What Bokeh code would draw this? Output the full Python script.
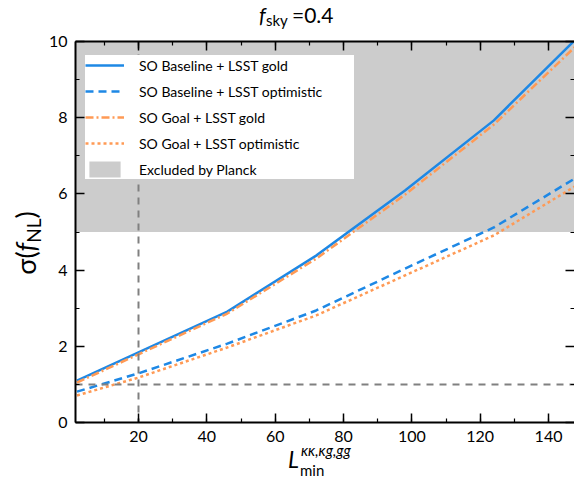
from bokeh.plotting import figure
from bokeh.layouts import column, row
from bokeh.models import (Legend, LegendItem, SingleIntervalTicker,
                          LinearAxis, Range1d, Span, Div)
from bokeh.embed import file_html
from bokeh.resources import INLINE

# ---- data ----
ell_min = [2, 20, 46, 72, 98, 124, 150]
so_base_lsst_gold = [1.10, 1.84, 2.91, 4.38, 6.09, 7.93, 10.24]
so_base_lsst_opt = [0.81, 1.29, 2.07, 2.94, 4.04, 5.12, 6.53]
so_goal_lsst_gold = [1.05, 1.79, 2.86, 4.30, 5.98, 7.82, 10.05]
so_goal_lsst_opt = [0.71, 1.18, 1.97, 2.81, 3.86, 4.91, 6.32]
planck_band = [5.0, 10.0]
ref_ell = 20
ref_sigma = 1.0
x_lim = (1.56, 147.6)
y_lim = (0, 10)
x_tick_step = 20
y_tick_step = 2
legend_labels = ["SO Baseline + LSST gold", "SO Baseline + LSST optimistic",
                 "SO Goal + LSST gold", "SO Goal + LSST optimistic",
                 "Excluded by Planck"]

FONT = "Lato"
BLUE = "#1e88e5"
ORANGE = "#ff9a55"
GRAY = "#808080"

# ---- geometry ----
TITLE_H = 30
YLAB_W = 45
BL, BR, BT, BB = 28, 0, 11, 28
FW, FH = 499, 381
FIG_H = BT + FH + BB
XLAB_H = 479 - TITLE_H - FIG_H

p = figure(frame_width=FW, frame_height=FH, output_backend="svg",
           toolbar_location=None, x_range=Range1d(*x_lim),
           y_range=Range1d(*y_lim), min_border_left=BL, min_border_right=BR,
           min_border_top=BT, min_border_bottom=BB)
p.outline_line_color = None
p.xgrid.visible = False
p.ygrid.visible = False
p.background_fill_color = "white"


def style_axis(ax, step, labels=True):
    ax.ticker = SingleIntervalTicker(interval=step, num_minor_ticks=2)
    ax.major_tick_in = 9
    ax.major_tick_out = 0
    ax.minor_tick_in = 4
    ax.minor_tick_out = 0
    ax.major_tick_line_width = 1.5
    ax.minor_tick_line_width = 1.2
    ax.axis_line_width = 2
    ax.major_tick_line_color = "black"
    ax.minor_tick_line_color = "black"
    ax.axis_line_color = "black"
    if labels:
        ax.major_label_text_font = FONT
        ax.major_label_text_font_size = "16px"
        ax.major_label_text_color = "black"
    else:
        ax.major_label_text_font_size = "0px"
        ax.major_label_text_color = None
        ax.major_label_standoff = 0


style_axis(p.xaxis[0], x_tick_step)
style_axis(p.yaxis[0], y_tick_step)
p.xaxis[0].major_label_standoff = 8
p.yaxis[0].major_label_standoff = 8

top = LinearAxis()
style_axis(top, x_tick_step, labels=False)
p.add_layout(top, "above")
right = LinearAxis()
style_axis(right, y_tick_step, labels=False)
right.axis_line_color = None
p.add_layout(right, "right")

# ---- excluded band ----
band = p.varea(x=[x_lim[0] - 5, x_lim[1] + 5], y1=planck_band[0],
               y2=planck_band[1], fill_color="#cccccc", fill_alpha=1.0)

# ---- reference lines ----
p.add_layout(Span(location=ref_ell, dimension="height", line_color=GRAY,
                  line_width=2, line_dash="7 6", level="glyph"))
p.add_layout(Span(location=ref_sigma, dimension="width", line_color=GRAY,
                  line_width=2, line_dash="7 6", level="glyph"))

# ---- curves ----
r1 = p.line(ell_min, so_base_lsst_gold, line_color=BLUE, line_width=2.5)
r2 = p.line(ell_min, so_base_lsst_opt, line_color=BLUE, line_width=2.5,
            line_dash="8 5")
r3 = p.line(ell_min, so_goal_lsst_gold, line_color=ORANGE, line_width=2.5,
            line_dash="8 3 2 3")
r4 = p.line(ell_min, so_goal_lsst_opt, line_color=ORANGE, line_width=2.5,
            line_dash="3 3")

legend = Legend(items=[LegendItem(label=t, renderers=[r])
                       for t, r in zip(legend_labels, [r1, r2, r3, r4, band])],
                location=(10, 243))
legend.label_text_font = FONT
legend.label_text_font_size = "14px"
legend.label_text_color = "black"
legend.glyph_width = 39
legend.glyph_height = 20
legend.label_height = 20
legend.label_width = 215
legend.label_standoff = 15
legend.spacing = 6
legend.padding = 8
legend.margin = 0
legend.border_line_color = None
legend.background_fill_color = "white"
legend.background_fill_alpha = 1.0
p.add_layout(legend, "center")


def span(txt, left, top, size, italic=False):
    st = "italic" if italic else "normal"
    return (f'<span style="position:absolute;left:{left}px;top:{top}px;'
            f'font-size:{size}px;line-height:{size}px;font-style:{st};'
            f'white-space:nowrap;">{txt}</span>')


def box(w, h, inner):
    return (f'<div style="position:relative;width:{w}px;height:{h}px;'
            f'font-family:{FONT};color:black;">{inner}</div>')


title_div = Div(text=box(574, TITLE_H,
                         span("f", 259, 4, 21, True)
                         + span("sky", 266, 13, 15)
                         + span("=0.4", 292, 4, 21)),
                width=574, height=TITLE_H, margin=(0, 0, 0, 0))

ylab_inner = ('<div style="position:absolute;left:27px;top:%dpx;'
              'transform:translate(-50%%,-50%%) rotate(-90deg);'
              'white-space:nowrap;font-size:27px;line-height:27px;">'
              'σ(<i>f</i><span style="font-size:19px;position:relative;top:5px;">'
              'NL</span>)</div>' % (BT + FH // 2 + 12))
ylab_div = Div(text=box(YLAB_W, FIG_H, ylab_inner), width=YLAB_W,
               height=FIG_H, margin=(0, 0, 0, 0))

xlab_div = Div(text=box(574, XLAB_H,
                        span("L", 288, -2, 23, True)
                        + span("κκ,κg,gg", 301, -7, 15, True)
                        + span("min", 300, 13, 15)),
               width=574, height=XLAB_H, margin=(0, 0, 0, 0))

layout = column(title_div, row(ylab_div, p, spacing=0), xlab_div, spacing=0)

open("out.html", "w").write(file_html(layout, INLINE))
